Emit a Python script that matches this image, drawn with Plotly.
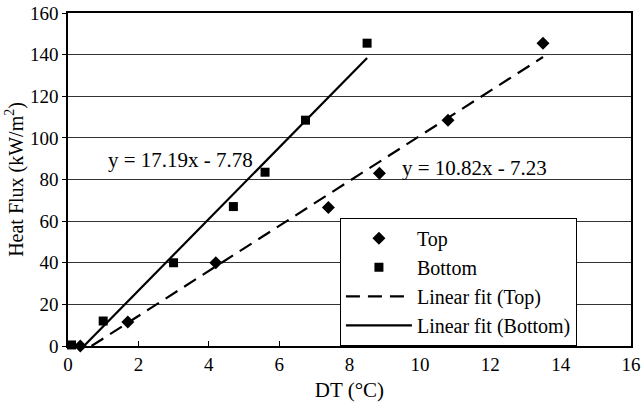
import plotly.graph_objects as go

# Data
top_dt = [0.35, 1.7, 4.2, 7.4, 8.85, 10.8, 13.5]
top_flux = [0.0, 11.5, 40.0, 66.5, 83.0, 108.5, 145.5]
bottom_dt = [0.1, 1.0, 3.0, 4.7, 5.6, 6.75, 8.5]
bottom_flux = [0.5, 12.0, 40.0, 67.0, 83.5, 108.5, 145.5]

top_slope, top_icpt = 10.82, -7.23
bot_slope, bot_icpt = 17.19, -7.78

x_ticks = [0, 2, 4, 6, 8, 10, 12, 14, 16]
y_ticks = [0, 20, 40, 60, 80, 100, 120, 140, 160]

FONT = "Liberation Serif"

def fit_line(slope, icpt, xmax):
    x0 = -icpt / slope
    xs = [x0, xmax]
    return xs, [slope * x + icpt for x in xs]

tx, ty = fit_line(top_slope, top_icpt, max(top_dt))
bx, by = fit_line(bot_slope, bot_icpt, max(bottom_dt))

fig = go.Figure()
fig.add_trace(go.Scatter(x=top_dt, y=top_flux, mode="markers", name="Top",
                         marker=dict(symbol="diamond", size=10, color="black"), cliponaxis=False))
fig.add_trace(go.Scatter(x=bottom_dt, y=bottom_flux, mode="markers", name="Bottom",
                         marker=dict(symbol="square", size=9, color="black"), cliponaxis=False))
fig.add_trace(go.Scatter(x=tx, y=ty, mode="lines", name="Linear fit (Top)",
                         line=dict(color="black", width=2.2, dash="14px,8px")))
fig.add_trace(go.Scatter(x=bx, y=by, mode="lines", name="Linear fit (Bottom)",
                         line=dict(color="black", width=2.2)))

fig.add_annotation(x=3.2, y=89.5, text="y = %.2fx - %.2f" % (bot_slope, -bot_icpt),
                   showarrow=False, font=dict(size=21, color="black", family=FONT))
fig.add_annotation(x=11.55, y=85.6, text="y = %.2fx - %.2f" % (top_slope, -top_icpt),
                   showarrow=False, font=dict(size=21, color="black", family=FONT))

fig.update_layout(
    width=641, height=402,
    margin=dict(l=68, r=10, t=13, b=56, autoexpand=False),
    paper_bgcolor="white", plot_bgcolor="white",
    font=dict(family=FONT, size=19, color="black"),
    showlegend=True,
    legend=dict(x=0.483, y=0.385, xanchor="left", yanchor="top",
                bgcolor="white", bordercolor="black", borderwidth=1,
                font=dict(size=20, family=FONT), itemwidth=66,
                tracegroupgap=0),
    xaxis=dict(range=[0, 16], tickvals=x_ticks, ticks="inside", ticklen=5,
               tickcolor="black", showline=True, linecolor="black", linewidth=1.6,
               mirror=True, showgrid=False, zeroline=False, automargin=False,
               title=dict(text="DT (°C)", font=dict(size=21), standoff=9),
               tickfont=dict(size=19)),
    yaxis=dict(range=[0, 160], tickvals=y_ticks, ticks="outside", ticklen=4,
               tickcolor="black", showline=True, linecolor="black", linewidth=1.6,
               mirror=True, showgrid=True, gridcolor="#333", gridwidth=1,
               zeroline=False, automargin=False,
               title=dict(text="Heat Flux (kW/m<sup>2</sup>)", font=dict(size=20), standoff=1),
               tickfont=dict(size=19)),
)

fig.write_html("out.html", config={"displayModeBar": False},
               post_script="document.body.style.margin='0';")
